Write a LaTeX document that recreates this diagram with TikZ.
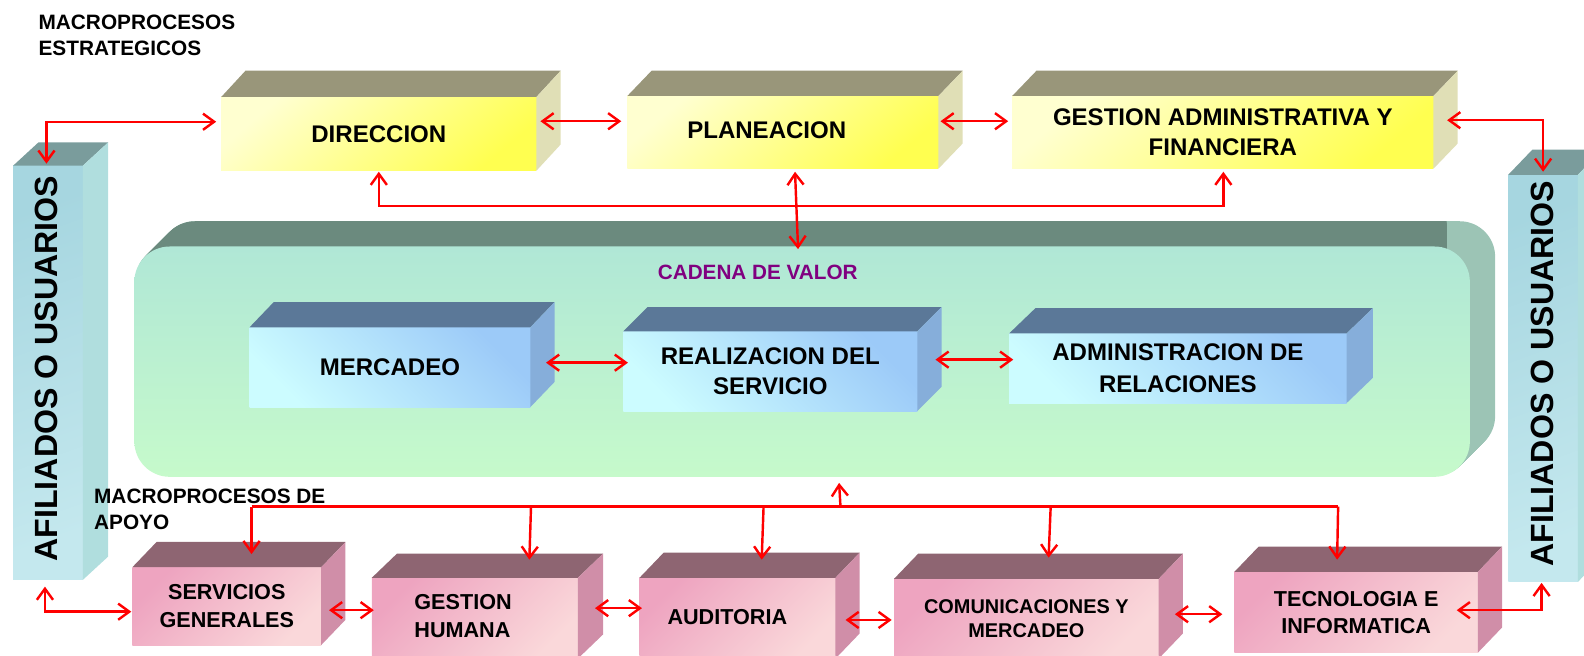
\documentclass[tikz,border=0pt]{standalone}
\usepackage{fontspec}
\setmainfont{Liberation Sans}
\usetikzlibrary{arrows.meta,positioning}
\definecolor{amaTop}{HTML}{99967A}
\definecolor{amaLado}{HTML}{E0DFB6}
\definecolor{amaClaro}{HTML}{FFFFD0}
\definecolor{amaFuerte}{HTML}{FFFF50}
\definecolor{rosTop}{HTML}{8E6572}
\definecolor{rosLado}{HTML}{D08EA8}
\definecolor{rosFuerte}{HTML}{EEA4C0}
\definecolor{rosClaro}{HTML}{FAD8DA}
\definecolor{azuTop}{HTML}{5B7898}
\definecolor{azuLado}{HTML}{86AEDA}
\definecolor{azuFuerte}{HTML}{9CCAF8}
\definecolor{azuClaro}{HTML}{CCFCFF}
\definecolor{cadTop}{HTML}{6B8A7E}
\definecolor{cadLado}{HTML}{9CC4B5}
\definecolor{cadArriba}{HTML}{B0E7D6}
\definecolor{cadAbajo}{HTML}{C6FACB}
\definecolor{pilTop}{HTML}{7A9C9C}
\definecolor{pilLado}{HTML}{B0DEDE}
\definecolor{pilA}{HTML}{A6D6E0}
\definecolor{pilB}{HTML}{C4E8EE}
\definecolor{morado}{HTML}{800080}

\tikzset{
  punta/.tip={Straight Barb[length=11pt,width=16pt]},
  linea/.style={draw=red, line width=2.4pt},
  flecha/.style={linea, -punta},
  doble/.style={linea, punta-punta},
  frente/.style={inner sep=0pt, outer sep=0pt, align=center,
    font=\fontsize{23.8}{30}\selectfont\bfseries},
  amarilla/.style={frente, top color=amaClaro, bottom color=amaFuerte, shading angle=40},
  azul/.style={frente, top color=azuFuerte, bottom color=azuClaro, shading angle=-45},
  rosa/.style={frente, top color=rosFuerte, bottom color=rosClaro, shading angle=45,
    font=\fontsize{21.4}{28}\selectfont\bfseries},
  pilar/.style={frente, top color=pilA, bottom color=pilB, shading angle=20},
  cadena/.style={frente, rounded corners=35pt, top color=cadArriba, bottom color=cadAbajo},
  texto/.style={inner sep=0pt, align=left, font=\fontsize{23.8}{30}\selectfont\bfseries},
  vertical/.style={inner sep=0pt, rotate=90, font=\fontsize{31.8}{36}\selectfont\bfseries},
  cabecera/.style={anchor=west, align=left, inner sep=0pt,
    font=\fontsize{20.6}{26}\selectfont\bfseries}
}

% tapa y lado de una caja
\newcommand{\caras}[5]{%
  \fill[#4] (#1.north west) -- ++(#2,-#3) -- ([shift={(#2,-#3)}]#1.north east) -- (#1.north east) -- cycle;
  \fill[#5] (#1.north east) -- ([shift={(#2,-#3)}]#1.north east) -- ([shift={(#2,-#3)}]#1.south east) -- (#1.south east) -- cycle;
}

\begin{document}
\begin{tikzpicture}[x=1pt, y=-1pt]
\useasboundingbox (0,0) rectangle (1568,649);

% cadena de valor
\foreach \k in {25,...,1}
  \fill[cadLado, rounded corners=35pt] (133+\k,244-\k) rectangle (1455+\k,472-\k);
\begin{scope}
  \clip (0,0) rectangle (1432,262);
  \foreach \k in {25,...,1}
    \fill[cadTop, rounded corners=35pt] (133+\k,244-\k) rectangle (1455+\k,472-\k);
\end{scope}
\node[cadena, minimum width=1322pt, minimum height=228pt] (cad) at (794,358) {};
\node[texto, anchor=west, text=morado, font=\fontsize{20.5}{24}\selectfont\bfseries] (cad-t) at (651,270) {CADENA DE VALOR};

% estrategicos
\node[amarilla, minimum width=312pt, minimum height=73pt] (dir) at (375,132.5) {DIRECCION};
\caras{dir}{24}{26}{amaTop}{amaLado}
\node[amarilla, minimum width=308pt, minimum height=72pt] (plan) at (775,131) {};
\caras{plan}{24}{25}{amaTop}{amaLado}
\node[texto] (plan-t) at ([xshift=-16pt,yshift=2pt]plan.center) {PLANEACION};
\node[amarilla, minimum width=417pt, minimum height=72pt] (gaf) at (1210.5,131) {GESTION ADMINISTRATIVA Y\\FINANCIERA};
\caras{gaf}{24}{25}{amaTop}{amaLado}

% afiliados
\node[pilar, minimum width=69pt, minimum height=410pt] (afil) at (47.5,369) {};
\caras{afil}{25}{23}{pilTop}{pilLado}
\node[vertical] (afil-t) at (46,365) {AFILIADOS O USUARIOS};
\node[pilar, minimum width=69pt, minimum height=403pt] (afir) at (1527.5,374.5) {};
\caras{afir}{24}{25}{pilTop}{pilLado}
\node[vertical] (afir-t) at (1527,370) {AFILIADOS O USUARIOS};

% misionales
\node[azul, minimum width=278pt, minimum height=79pt] (mer) at (386,363.5) {MERCADEO};
\caras{mer}{24}{25}{azuTop}{azuLado}
\node[azul, minimum width=291pt, minimum height=79pt] (real) at (762.5,367.5) {REALIZACION DEL\\SERVICIO};
\caras{real}{24}{24}{azuTop}{azuLado}
\node[azul, minimum width=334pt, minimum height=69pt, font=\fontsize{23.8}{31}\selectfont\bfseries] (adm) at (1166,364.5) {ADMINISTRACION DE\\RELACIONES};
\caras{adm}{26}{25}{azuTop}{azuLado}

% apoyo
\node[rosa, minimum width=187pt, minimum height=77pt] (sg) at (224.5,600) {SERVICIOS\\GENERALES};
\caras{sg}{24}{25}{rosTop}{rosLado}
\node[rosa, minimum width=204pt, minimum height=80pt] (gh) at (470,612) {};
\caras{gh}{25}{24}{rosTop}{rosLado}
\node[texto, anchor=west, font=\fontsize{21.4}{28}\selectfont\bfseries] (gh-t) at (410,610) {GESTION\\HUMANA};
\node[rosa, minimum width=194pt, minimum height=80pt] (aud) at (730,612) {};
\caras{aud}{24}{25}{rosTop}{rosLado}
\node[texto, font=\fontsize{21.4}{28}\selectfont\bfseries] (aud-t) at ([xshift=-10pt,yshift=1.5pt]aud.center) {AUDITORIA};
\node[rosa, minimum width=262pt, minimum height=79pt, font=\fontsize{19.7}{24.5}\selectfont\bfseries] (com) at (1016,612.5) {COMUNICACIONES Y\\MERCADEO};
\caras{com}{24}{25}{rosTop}{rosLado}
\node[rosa, minimum width=241pt, minimum height=80pt, font=\fontsize{21.4}{27}\selectfont\bfseries] (tec) at (1342.5,606) {TECNOLOGIA E\\INFORMATICA};
\caras{tec}{24}{25}{rosTop}{rosLado}

\node[cabecera] (cab-est) at (38,35) {MACROPROCESOS\\ESTRATEGICOS};
\node[cabecera] (cab-apo) at (93,504) {MACROPROCESOS DE\\APOYO};

% flechas arriba
\draw[doble] ([xshift=-1.5pt,yshift=2pt]afil.north) |- ([xshift=-5pt,yshift=12pt]dir.west);
\draw[doble] ([xshift=4pt,yshift=12.5pt]dir.east) -- ([xshift=-6pt,yshift=11pt]plan.west);
\draw[doble] ([xshift=2pt,yshift=11pt]plan.east) -- ([xshift=-4pt,yshift=11pt]gaf.west);
\draw[doble] ([xshift=13.5pt,yshift=12pt]gaf.east) -| ([yshift=3pt]afir.north);
\draw[doble] ([yshift=-1pt]dir.south) -- ++(0,34) -| ([xshift=0.5pt,yshift=-3pt]gaf.south);
\draw[doble] ([xshift=12pt,yshift=-3pt]plan.south) -- ([xshift=-4pt,yshift=-2.6pt]cad.north);

% flechas cadena
\draw[doble] ([xshift=15.5pt,yshift=4.5pt]mer.east) -- ([xshift=4.6pt,yshift=8.5pt]real.west);
\draw[doble] ([xshift=18pt,yshift=11.5pt]real.east) -- ([xshift=4pt,yshift=8.5pt]adm.west);

% flechas apoyo
\coordinate (b1) at (249,501.5);
\coordinate (b2) at (525.6,503);
\coordinate (b3) at (755.8,503);
\coordinate (bc) at (832,501.5);
\coordinate (b4) at (1040,503);
\coordinate (b5) at (1324.6,501.5);
\draw[linea] (b1) -- (b5);
\draw[flecha] (b1) -- ([xshift=24.5pt,yshift=13pt]sg.north);
\draw[flecha] (b2) -- ([xshift=54pt,yshift=18pt]gh.north);
\draw[flecha] (b3) -- ([xshift=24pt,yshift=18pt]aud.north);
\draw[flecha] (bc) -- ([xshift=36.6pt,yshift=-6pt]cad.south);
\draw[flecha] (b4) -- ([xshift=22pt,yshift=21pt]com.north);
\draw[flecha] (b5) -- ([xshift=-18.9pt,yshift=12pt]tec.north);

\draw[doble] ([xshift=-3pt,yshift=-6.7pt]afil.south) |- ([xshift=-1pt,yshift=-5.5pt]sg.west);
\draw[doble] ([xshift=7.7pt,yshift=-4pt]sg.east) -- ([xshift=2pt,yshift=8pt]gh.west);
\draw[doble] ([xshift=17pt,yshift=10pt]gh.east) -- ([xshift=2.5pt,yshift=10pt]aud.west);
\draw[doble] ([xshift=10pt,yshift=-1.7pt]aud.east) -- ([xshift=-2.3pt,yshift=-1.2pt]com.west);
\draw[doble] ([xshift=16pt,yshift=4.5pt]com.east) -- ([xshift=-12pt,yshift=-2pt]tec.west);
\draw[doble] ([xshift=-21pt,yshift=2pt]tec.east) -| ([xshift=-1.5pt,yshift=-1pt]afir.south);
\end{tikzpicture}
\end{document}
